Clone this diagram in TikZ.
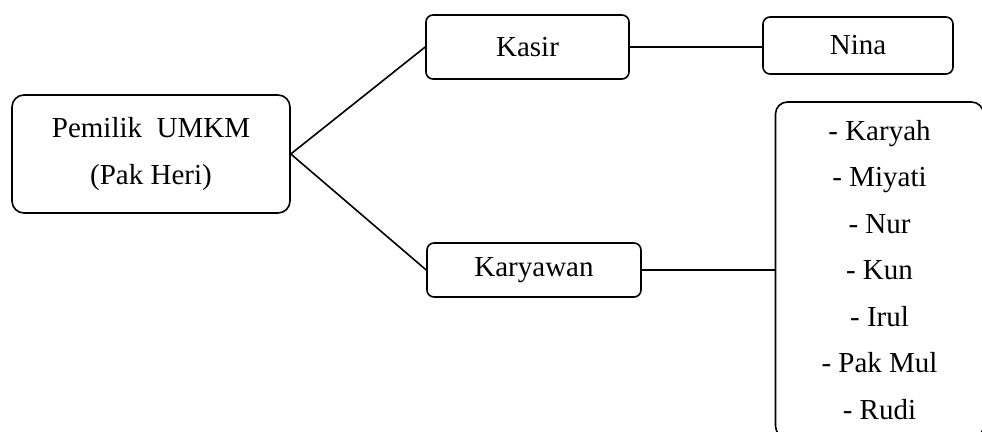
\documentclass[tikz,border=0pt]{standalone}
\usepackage{fontspec}
\setmainfont{Liberation Serif}
\usetikzlibrary{positioning}

\tikzset{
  box/.style={draw, line width=1.6pt, rounded corners=7pt, align=center, inner sep=0pt,
    font=\fontsize{29}{46.5}\selectfont},
  link/.style={line width=1.6pt}
}

\begin{document}
\begin{tikzpicture}[x=1pt,y=-1pt]
\useasboundingbox (0,0) rectangle (982,431);
\node[box, minimum width=278pt, minimum height=118pt, rounded corners=12pt] (owner) at (151,154) {Pemilik\ \ UMKM\\(Pak Heri)};
\node[box, minimum width=203pt, minimum height=64pt] (kasir) at (527.5,47) {Kasir};
\node[box, minimum width=190pt, minimum height=57pt] (nina) at (858,45.5) {Nina};
\node[box, minimum width=214pt, minimum height=54pt] (karyawan) at (534,270) {Karyawan};
\node[box, minimum width=208pt, minimum height=336pt, rounded corners=12pt] (staff) at (879.5,270)
  {- Karyah\\- Miyati\\- Nur\\- Kun\\- Irul\\- Pak Mul\\- Rudi};
\draw[link] (owner.east) -- (kasir.west);
\draw[link] (owner.east) -- (karyawan.west);
\draw[link] (kasir.east) -- (kasir.east -| nina.west);
\draw[link] (karyawan.east) -- (karyawan.east -| staff.west);
\end{tikzpicture}
\end{document}
